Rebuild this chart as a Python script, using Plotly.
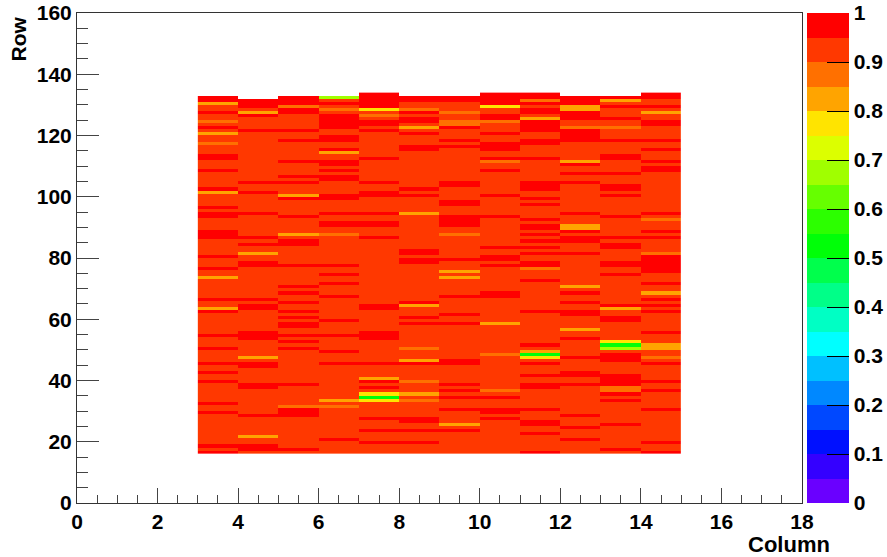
import numpy as np
import plotly.graph_objects as go

# ---------------- data ----------------
columns = list(range(3, 15))          # lower edges of the column bins
rows = list(range(16, 134))           # lower edges of the row bins

top_row = [132, 131, 132, 132, 133, 132, 132, 133, 133, 132, 132, 133]

base_value = 0.925   # the dominant orange-red
red_value = 0.975
orange_value = 0.875
light_orange_value = 0.825
yellow_value = 0.775
lime_value = 0.675
green_value = 0.525

red_rows = [
    [132,131,127,122,112,113,108,102,96,94,93,86,87,88,80,76,66,62,54,50,45,42,39,32,29,18,16],
    [131,130,129,126,121,104,101,94,86,84,77,78,66,63,64,55,53,54,45,44,37,38,28,17,18],
    [132,131,130,128,127,121,118,111,106,104,99,93,84,85,77,70,68,65,62,60,57,58,54,52,50,38,28,29,30,17],
    [130,122,123,124,125,126,118,119,115,110,111,108,105,106,99,100,94,90,91,77,74,71,67,59,54,49,45,20],
    [133,132,131,130,129,123,124,121,112,104,100,101,94,90,91,86,63,64,55,53,54,45,39,37,27,23,19],
    [132,131,127,124,125,120,115,116,102,100,81,82,78,79,65,60,58,45,26,27,23,19],
    [132,131,122,118,116,103,104,97,98,90,91,92,93,79,67,61,58,45,46,38,36,34,30,23],
    [133,132,131,130,125,126,120,115,116,117,112,108,100,93,83,79,80,77,67,68,34,29,30,27],
    [133,132,130,127,128,121,122,123,124,117,118,112,104,102,103,99,97,92,89,90,87,85,83,81,77,78,72,62,51,45,41,37,38,30,25,26,22,16],
    [132,131,130,125,126,127,118,119,120,121,110,107,104,94,88,85,86,81,68,65,61,62,53,47,41,42,38,28,24,20],
    [132,129,125,118,112,113,107,102,103,100,93,86,84,83,77,78,74,64,59,60,46,47,48,38,39,40,41,35,33,25,17],
    [133,132,129,123,124,118,115,111,108,109,94,88,86,80,75,76,77,78,79,71,66,64,62,55,45,39,36,30,19,16],
]
orange_rows = [
    [124,117], [], [129,31], [128,87,31], [126], [128,50,39,33],
    [127,123,124,87], [124,111,48,36], [131,76], [122], [122,36,37], [92,81,47],
]
light_orange_rows = [
    [130,120,101,73,63], [127,81,47,21], [100,87], [114,33], [40], [122,94,64,46,35],
    [75,73,25], [58], [125,49], [128,129,111,89,90,70,56], [131,63], [127,68,50,51],
]
yellow_rows = [[], [], [], [], [128,35,33], [], [], [129], [47], [], [52], []]
lime_rows = [[], [], [], [132], [], [], [], [], [], [], [50], []]
green_rows = [[], [], [], [], [34], [], [], [], [48], [], [51], []]

colorbar_ticks = [0, 0.1, 0.2, 0.3, 0.4, 0.5, 0.6, 0.7, 0.8, 0.9, 1]
colorbar_labels = ["0", "0.1", "0.2", "0.3", "0.4", "0.5", "0.6", "0.7", "0.8", "0.9", "1"]

palette = ["#6a00ff", "#3400ff", "#0010ff", "#0048ff", "#0088ff", "#00c0ff",
           "#00ffff", "#00ffc4", "#00ff88", "#00ff4c", "#00ff08", "#2cff00",
           "#66ff00", "#a0ff00", "#dcff00", "#ffe400", "#ffa400", "#ff7000",
           "#ff3800", "#ff0000"]

# ---------------- build the matrix ----------------
z = np.full((len(rows), len(columns)), np.nan)
for ci in range(len(columns)):
    for ri, r in enumerate(rows):
        if r <= top_row[ci]:
            z[ri, ci] = base_value
    for lst, val in [(red_rows, red_value), (orange_rows, orange_value),
                     (light_orange_rows, light_orange_value), (yellow_rows, yellow_value),
                     (lime_rows, lime_value), (green_rows, green_value)]:
        for r in lst[ci]:
            if rows[0] <= r <= top_row[ci]:
                z[r - rows[0], ci] = val

n = len(palette)
colorscale = []
for i, c in enumerate(palette):
    colorscale.append([i / n, c])
    colorscale.append([(i + 1) / n, c])

FONT = "Liberation Sans, Arial, Helvetica, sans-serif"
TICKCOL = "#444444"

fig = go.Figure(go.Heatmap(
    x=[c + 0.5 for c in columns],
    y=[r + 0.5 for r in rows],
    z=z,
    zmin=0, zmax=1,
    colorscale=colorscale,
    hoverongaps=False,
    colorbar=dict(
        x=1.0069, xanchor="left", xpad=0,
        y=0.5, yanchor="middle", ypad=0,
        len=1, lenmode="fraction",
        thickness=42, thicknessmode="pixels",
        outlinewidth=0,
        tickmode="array", tickvals=colorbar_ticks, ticktext=colorbar_labels,
        ticks="inside", ticklen=22, tickcolor="black", tickwidth=1,
        ticklabeloverflow="allow",
        tickfont=dict(family=FONT, size=21, color="black", weight="bold"),
    ),
))

fig.update_layout(
    width=887, height=557,
    margin=dict(l=77, r=85, t=13, b=54, autoexpand=False),
    paper_bgcolor="white", plot_bgcolor="white",
    showlegend=False,
    xaxis=dict(
        range=[0, 18], tickmode="linear", tick0=0, dtick=2,
        ticks="inside", ticklen=15, tickwidth=1, tickcolor=TICKCOL,
        minor=dict(ticks="inside", ticklen=8, dtick=0.5, tickcolor=TICKCOL, tickwidth=1),
        showline=True, linecolor="#333333", linewidth=1, mirror=True,
        showgrid=False, zeroline=False, automargin=False,
        ticklabeloverflow="allow",
        tickfont=dict(family=FONT, size=21, color="black", weight="bold"),
    ),
    yaxis=dict(
        range=[0, 160], tickmode="linear", tick0=0, dtick=20,
        ticks="inside", ticklen=22, tickwidth=1, tickcolor=TICKCOL,
        minor=dict(ticks="inside", ticklen=11, dtick=5, tickcolor=TICKCOL, tickwidth=1),
        showline=True, linecolor="#333333", linewidth=1, mirror=True,
        showgrid=False, zeroline=False, automargin=False,
        ticklabeloverflow="allow",
        tickfont=dict(family=FONT, size=21, color="black", weight="bold"),
    ),
    annotations=[
        dict(text="Column", xref="paper", yref="paper", x=1.0414, y=-0.0857,
             xanchor="right", yanchor="middle", showarrow=False,
             font=dict(family=FONT, size=22, color="black", weight="bold")),
        dict(text="Row", xref="paper", yref="paper", x=-0.0814, y=0.998,
             xanchor="center", yanchor="top", textangle=-90, showarrow=False,
             font=dict(family=FONT, size=21, color="black", weight="bold")),
    ],
)

# remove the browser's default 8px body margin so the figure fills the window
fig.write_html("out.html", config={"displayModeBar": False},
               post_script="document.body.style.margin='0px';")
